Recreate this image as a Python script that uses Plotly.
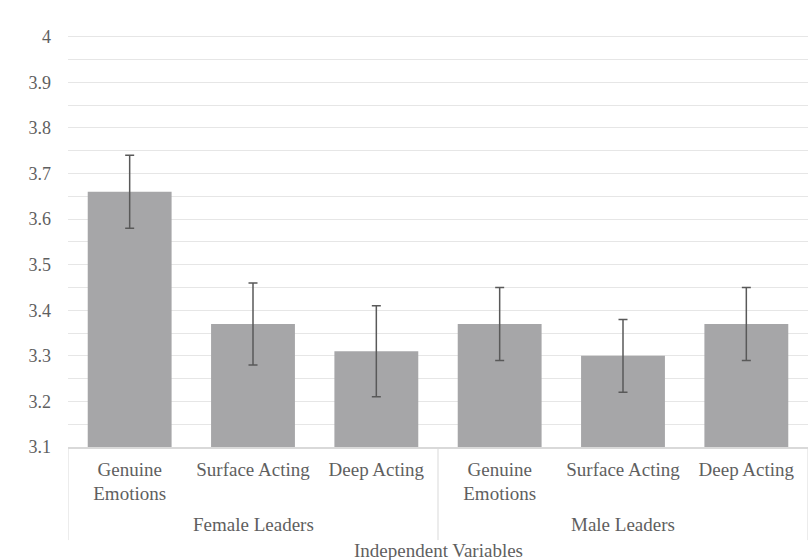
import plotly.graph_objects as go

# Mean ratings with confidence bounds for each leader group / emotion strategy
groups = ["Female Leaders", "Male Leaders"]
conditions = ["Genuine<br>Emotions", "Surface Acting", "Deep Acting"]
means = [3.66, 3.37, 3.31, 3.37, 3.30, 3.37]
lower = [3.58, 3.28, 3.21, 3.29, 3.22, 3.29]
upper = [3.74, 3.46, 3.41, 3.45, 3.38, 3.45]
y_ticks = [3.1, 3.2, 3.3, 3.4, 3.5, 3.6, 3.7, 3.8, 3.9, 4.0]
y_tick_labels = ["3.1", "3.2", "3.3", "3.4", "3.5", "3.6", "3.7", "3.8", "3.9", "4"]

FONT = "Liberation Serif"
TEXT = "#5f5f5f"
GRID = "#E6E6E6"

positions = list(range(len(means)))
labels = conditions * len(groups)

fig = go.Figure()
fig.add_trace(go.Bar(
    x=positions,
    y=[m - 3.1 for m in means],
    base=3.1,
    width=0.68,
    marker=dict(color="#A6A6A8", line=dict(width=0)),
    error_y=dict(
        type="data",
        symmetric=False,
        array=[u - m for u, m in zip(upper, means)],
        arrayminus=[m - l for m, l in zip(means, lower)],
        color="#595959",
        thickness=1.5,
        width=4.5,
    ),
    hoverinfo="skip",
))

# Group dividers below the axis
shapes = []
for xd in [-0.5, 2.5, 5.5]:
    shapes.append(dict(type="line", xref="x", yref="paper", x0=xd, x1=xd,
                       y0=0, y1=-0.215, line=dict(color="#D9D9D9", width=1)))

annotations = []
for gi, g in enumerate(groups):
    annotations.append(dict(text=g, xref="x", yref="paper", x=gi * 3 + 1, y=0,
                            yshift=-77, yanchor="middle", showarrow=False,
                            font=dict(family=FONT, size=19, color=TEXT)))
annotations.append(dict(text="Independent Variables", xref="paper", yref="paper",
                        x=0.5, y=0, yshift=-103, yanchor="middle", showarrow=False,
                        font=dict(family=FONT, size=19, color=TEXT)))

fig.update_layout(
    width=808, height=560,
    margin=dict(l=68, r=0, t=14, b=113),
    plot_bgcolor="white", paper_bgcolor="white",
    showlegend=False,
    font=dict(family=FONT, color=TEXT),
    shapes=shapes,
    annotations=annotations,
    xaxis=dict(
        range=[-0.5, 5.5],
        tickmode="array", tickvals=positions, ticktext=labels,
        ticks="", showgrid=False, zeroline=False,
        showline=True, linecolor="#D9D9D9", linewidth=1.5,
        tickfont=dict(family=FONT, size=19, color=TEXT),
        ticklabelstandoff=4,
    ),
    yaxis=dict(
        range=[3.1, 4.05],
        tickmode="array", tickvals=y_ticks, ticktext=y_tick_labels,
        showgrid=True, gridcolor=GRID, gridwidth=1.2,
        minor=dict(dtick=0.05, tick0=3.1, showgrid=True, gridcolor=GRID, gridwidth=1.2),
        zeroline=False, showline=False, ticks="",
        tickfont=dict(family=FONT, size=18, color=TEXT),
        ticklabelstandoff=16,
    ),
    bargap=0.32,
)

fig.write_html("out.html")
